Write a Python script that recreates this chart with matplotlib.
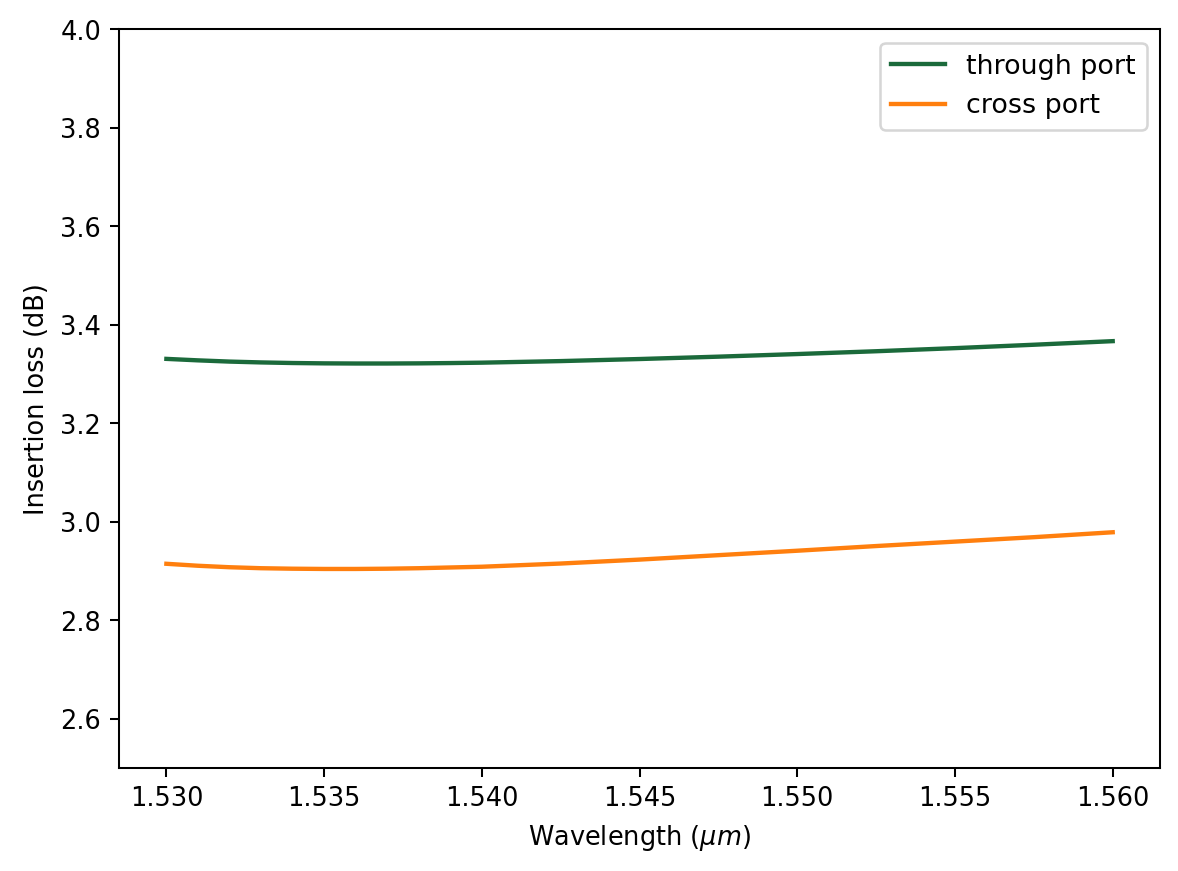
import matplotlib.pyplot as plt

# wavelength samples (um)
wavelength = [1.530, 1.531, 1.532, 1.533, 1.534, 1.535, 1.536, 1.537,
              1.538, 1.539, 1.540, 1.5425, 1.545, 1.5475, 1.550,
              1.5525, 1.555, 1.5575, 1.560]
through_port = [3.331, 3.328, 3.3255, 3.3238, 3.3226, 3.3219, 3.3216, 3.3216,
                3.3219, 3.3225, 3.3233, 3.3265, 3.3307, 3.3355, 3.3408,
                3.3465, 3.3528, 3.3597, 3.367]
cross_port = [2.915, 2.911, 2.908, 2.906, 2.905, 2.9045, 2.9045, 2.905,
              2.906, 2.9075, 2.909, 2.9155, 2.9235, 2.9325, 2.9415,
              2.951, 2.960, 2.969, 2.979]

fig = plt.figure(figsize=(6.4, 4.73), dpi=184.2)
plt.plot(wavelength, through_port, color="#1b6a3b", lw=1.7, label="through port")
plt.plot(wavelength, cross_port, color="#ff7f0e", lw=1.7, label="cross port")
plt.ylim(2.5, 4.0)
plt.xlabel(r"Wavelength ($\mu m$)")
plt.ylabel("Insertion loss (dB)")
plt.legend(fontsize=10.5)
fig.subplots_adjust(left=0.101, right=0.984, top=0.966, bottom=0.118)
plt.savefig("out.png")
